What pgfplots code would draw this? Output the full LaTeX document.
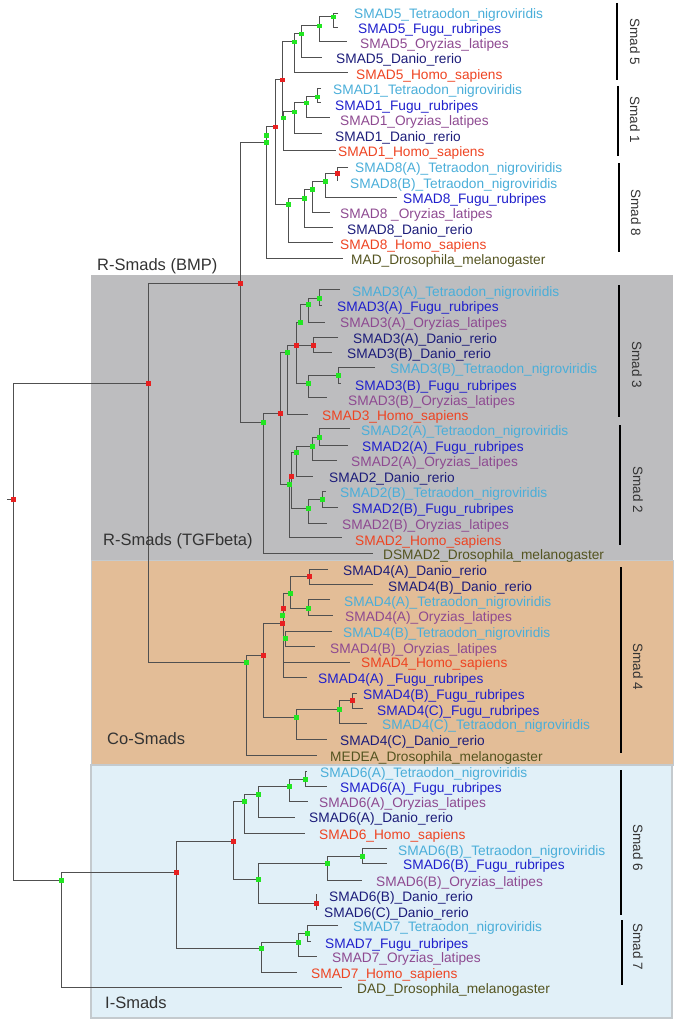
\documentclass[border=0pt]{standalone}
\usepackage{pgfplots}
\pgfplotsset{compat=1.18}
\usepackage{fontspec}
\setmainfont{Liberation Sans}
\definecolor{ctet}{HTML}{4AAED9}
\definecolor{cfugu}{HTML}{1F1FCC}
\definecolor{cory}{HTML}{8E4A91}
\definecolor{cdan}{HTML}{1C1C7A}
\definecolor{chomo}{HTML}{EE4422}
\definecolor{cdro}{HTML}{545420}
\definecolor{cline}{HTML}{505050}
\definecolor{cgray}{HTML}{BDBDBF}
\definecolor{corange}{HTML}{E3BD97}
\definecolor{cblue}{HTML}{E1F0F8}
\definecolor{cborder}{HTML}{C4CACE}
\definecolor{cgreen}{HTML}{22E622}
\definecolor{cred}{HTML}{E82020}
\definecolor{ctext}{HTML}{333333}
\newcommand{\lf}{\fontsize{13.7}{15}\selectfont}
\newcommand{\gf}{\fontsize{16.5}{18}\selectfont}
\newcommand{\smf}{\fontsize{13.5}{15}\selectfont}
\newcommand{\leaf}[4]{\node[anchor=base west,inner sep=0pt,yshift=-4.9pt,text=#4,font=\lf] at (axis cs:#1,#2) {#3};}
\begin{document}
\begin{tikzpicture}
\begin{axis}[width=685pt,height=1030pt,scale only axis,xmin=0,xmax=685,ymin=0,ymax=1030,y dir=reverse,hide axis,clip=false,unbounded coords=jump]
% background boxes
\addplot[fill=cgray,draw=none] coordinates {(91,275)(673,275)(673,560)(91,560)} -- cycle;
\addplot[fill=corange,draw=cborder,line width=0.8pt] coordinates {(91,560)(673,560)(673,765)(91,765)} -- cycle;
\addplot[fill=cblue,draw=cborder,line width=1.5pt] coordinates {(91,765)(672,765)(672,1018)(91,1018)} -- cycle;
% tree
\addplot[cline,line width=1pt,mark=none] table {
x y
338 14
333 14
333 28
338 28
nan nan
333 17
319 17
319 42
347 42
nan nan
319 26
301 26
301 58
322 58
nan nan
301 34
294 34
294 73
348 73
nan nan
321 89
317 89
317 103
321 103
nan nan
317 97
306 97
306 118
330 118
nan nan
306 103
294 103
294 134
322 134
nan nan
294 112
283 112
283 150
336 150
nan nan
294 42
282 42
282 118
283 118
nan nan
348 167
337 167
337 181
nan nan
337 173
325 173
325 197
397 197
nan nan
325 181
312 181
312 212
330 212
nan nan
312 189
304 189
304 227
333 227
nan nan
304 198
288 198
288 242
333 242
nan nan
282 80
275 80
275 204
288 204
nan nan
275 127
266 127
266 258
343 258
nan nan
266 142
240 142
240 422
263 422
nan nan
340 289
319 289
319 305
322 305
nan nan
319 298
308 298
308 322
325 322
nan nan
338 337
313 337
313 352
332 352
nan nan
308 304
300 304
300 322
nan nan
300 322
296 322
296 383
308 383
nan nan
296 345
313 345
nan nan
375 367
338 367
338 383
341 383
nan nan
338 375
308 375
308 397
327 397
nan nan
296 345
287 345
287 414
308 414
nan nan
287 352
280 352
280 484
289 484
nan nan
280 413
263 413
263 553
373 553
nan nan
350 428
319 428
319 445
348 445
nan nan
319 437
312 437
312 460
337 460
nan nan
312 446
296 446
296 476
313 476
nan nan
326 491
322 491
322 507
338 507
nan nan
322 499
308 499
308 523
327 523
nan nan
296 452
291 452
291 508
308 508
nan nan
291 476
289 476
289 537
342 537
nan nan
328 569
309 569
309 584
373 584
nan nan
330 599
308 599
308 615
333 615
nan nan
309 576
290 576
290 608
308 608
nan nan
332 631
285 631
285 646
315 646
nan nan
290 593
283 593
283 677
307 677
nan nan
283 638
285 638
nan nan
283 662
350 662
nan nan
283 623
263 623
263 717
296 717
nan nan
357 693
352 693
352 708
363 708
nan nan
352 700
339 700
339 723
367 723
nan nan
339 709
296 709
296 739
327 739
nan nan
263 655
246 655
246 755
317 755
nan nan
240 283
148 283
148 662
246 662
nan nan
307 771
305 771
305 786
327 786
nan nan
305 779
289 779
289 801
308 801
nan nan
289 786
258 786
258 817
295 817
nan nan
258 794
244 794
244 833
305 833
nan nan
387 848
362 848
362 863
387 863
nan nan
362 856
327 856
327 880
362 880
nan nan
316 894
316 910
nan nan
327 863
258 863
258 903
316 903
nan nan
244 801
233 801
233 879
258 879
nan nan
338 925
307 925
307 941
311 941
nan nan
307 933
298 933
298 956
317 956
nan nan
298 942
261 942
261 972
297 972
nan nan
233 841
176 841
176 948
261 948
nan nan
176 872
61 872
61 987
342 987
nan nan
148 383
13 383
13 880
61 880
nan nan
7 499
13 499
};
% node marks
\addplot[only marks,mark=square*,mark size=1.7pt,color=cgreen,mark options={draw=none,fill=cgreen}] table {
x y
333 17
319 26
301 34
294 42
317 97
306 103
294 112
283 118
266 135
266 142
325 181
312 189
304 198
288 204
319 298
308 304
300 322
287 352
338 375
308 383
263 422
319 437
312 446
296 452
289 484
322 499
308 508
290 593
308 608
282 615
285 638
246 662
339 709
296 717
305 779
289 786
258 794
244 801
362 856
327 863
258 879
307 933
298 942
261 948
61 880
};
\addplot[only marks,mark=square*,mark size=1.7pt,color=cred,mark options={draw=none,fill=cred}] table {
x y
13 499
282 80
275 127
337 173
240 283
148 383
313 345
296 345
280 413
291 476
309 576
283 608
282 623
263 655
352 700
233 841
176 872
316 903
};
% right bars
\addplot[black,line width=2.5pt,mark=none] coordinates {(617,3)(617,80)};
\addplot[black,line width=2.5pt,mark=none] coordinates {(618,86)(618,156)};
\addplot[black,line width=2.5pt,mark=none] coordinates {(619,163)(619,252)};
\addplot[black,line width=2.5pt,mark=none] coordinates {(619,285)(619,417)};
\addplot[black,line width=2.5pt,mark=none] coordinates {(620,425)(620,545)};
\addplot[black,line width=2.5pt,mark=none] coordinates {(621,567)(621,753)};
\addplot[black,line width=2.5pt,mark=none] coordinates {(621,770)(621,915)};
\addplot[black,line width=2.5pt,mark=none] coordinates {(622,920)(622,985)};
\node[rotate=-90,font=\smf,text=ctext] at (axis cs:635,42) {Smad 5};
\node[rotate=-90,font=\smf,text=ctext] at (axis cs:635,120) {Smad 1};
\node[rotate=-90,font=\smf,text=ctext] at (axis cs:636,213) {Smad 8};
\node[rotate=-90,font=\smf,text=ctext] at (axis cs:637,365) {Smad 3};
\node[rotate=-90,font=\smf,text=ctext] at (axis cs:638,490) {Smad 2};
\node[rotate=-90,font=\smf,text=ctext] at (axis cs:638,667) {Smad 4};
\node[rotate=-90,font=\smf,text=ctext] at (axis cs:638,848) {Smad 6};
\node[rotate=-90,font=\smf,text=ctext] at (axis cs:638,947) {Smad 7};
% group labels
\node[anchor=base west,inner sep=0pt,yshift=-5.9pt,font=\gf,text=ctext] at (axis cs:97,265) {R-Smads (BMP)};
\node[anchor=base west,inner sep=0pt,yshift=-5.9pt,font=\gf,text=ctext] at (axis cs:103,540) {R-Smads (TGFbeta)};
\node[anchor=base west,inner sep=0pt,yshift=-5.9pt,font=\gf,text=ctext] at (axis cs:107,739) {Co-Smads};
\node[anchor=base west,inner sep=0pt,yshift=-5.9pt,font=\gf,text=ctext] at (axis cs:105,1003) {I-Smads};
% leaves
\leaf{354}{14}{SMAD5\_Tetraodon\_nigroviridis}{ctet}
\leaf{358}{29}{SMAD5\_Fugu\_rubripes}{cfugu}
\leaf{360}{44}{SMAD5\_Oryzias\_latipes}{cory}
\leaf{336}{59}{SMAD5\_Danio\_rerio}{cdan}
\leaf{356}{75}{SMAD5\_Homo\_sapiens}{chomo}
\leaf{333}{90}{SMAD1\_Tetraodon\_nigroviridis}{ctet}
\leaf{335}{106}{SMAD1\_Fugu\_rubripes}{cfugu}
\leaf{340}{121}{SMAD1\_Oryzias\_latipes}{cory}
\leaf{335}{137}{SMAD1\_Danio\_rerio}{cdan}
\leaf{338}{152}{SMAD1\_Homo\_sapiens}{chomo}
\leaf{355}{168}{SMAD8(A)\_Tetraodon\_nigroviridis}{ctet}
\leaf{350}{184}{SMAD8(B)\_Tetraodon\_nigroviridis}{ctet}
\leaf{403}{199}{SMAD8\_Fugu\_rubripes}{cfugu}
\leaf{340}{214}{SMAD8 \_Oryzias\_latipes}{cory}
\leaf{347}{230}{SMAD8\_Danio\_rerio}{cdan}
\leaf{340}{245}{SMAD8\_Homo\_sapiens}{chomo}
\leaf{351}{260}{MAD\_Drosophila\_melanogaster}{cdro}
\leaf{352}{292}{SMAD3(A)\_Tetraodon\_nigroviridis}{ctet}
\leaf{337}{307}{SMAD3(A)\_Fugu\_rubripes}{cfugu}
\leaf{340}{323}{SMAD3(A)\_Oryzias\_latipes}{cory}
\leaf{353}{339}{SMAD3(A)\_Danio\_rerio}{cdan}
\leaf{347}{354}{SMAD3(B)\_Danio\_rerio}{cdan}
\leaf{390}{369}{SMAD3(B)\_Tetraodon\_nigroviridis}{ctet}
\leaf{355}{386}{SMAD3(B)\_Fugu\_rubripes}{cfugu}
\leaf{348}{401}{SMAD3(B)\_Oryzias\_latipes}{cory}
\leaf{322}{416}{SMAD3\_Homo\_sapiens}{chomo}
\leaf{361}{431}{SMAD2(A)\_Tetraodon\_nigroviridis}{ctet}
\leaf{362}{447}{SMAD2(A)\_Fugu\_rubripes}{cfugu}
\leaf{351}{462}{SMAD2(A)\_Oryzias\_latipes}{cory}
\leaf{329}{478}{SMAD2\_Danio\_rerio}{cdan}
\leaf{340}{493}{SMAD2(B)\_Tetraodon\_nigroviridis}{ctet}
\leaf{352}{509}{SMAD2(B)\_Fugu\_rubripes}{cfugu}
\leaf{342}{525}{SMAD2(B)\_Oryzias\_latipes}{cory}
\leaf{355}{541}{SMAD2\_Homo\_sapiens}{chomo}
\leaf{383}{555}{DSMAD2\_Drosophila\_melanogaster}{cdro}
\leaf{343}{571}{SMAD4(A)\_Danio\_rerio}{cdan}
\leaf{388}{587}{SMAD4(B)\_Danio\_rerio}{cdan}
\leaf{344}{602}{SMAD4(A)\_Tetraodon\_nigroviridis}{ctet}
\leaf{345}{617}{SMAD4(A)\_Oryzias\_latipes}{cory}
\leaf{343}{633}{SMAD4(B)\_Tetraodon\_nigroviridis}{ctet}
\leaf{330}{649}{SMAD4(B)\_Oryzias\_latipes}{cory}
\leaf{361}{663}{SMAD4\_Homo\_sapiens}{chomo}
\leaf{318}{679}{SMAD4(A) \_Fugu\_rubripes}{cfugu}
\leaf{363}{695}{SMAD4(B)\_Fugu\_rubripes}{cfugu}
\leaf{377}{711}{SMAD4(C)\_Fugu\_rubripes}{cfugu}
\leaf{382}{725}{SMAD4(C)\_Tetraodon\_nigroviridis}{ctet}
\leaf{340}{741}{SMAD4(C)\_Danio\_rerio}{cdan}
\leaf{330}{757}{MEDEA\_Drosophila\_melanogaster}{cdro}
\leaf{320}{773}{SMAD6(A)\_Tetraodon\_nigroviridis}{ctet}
\leaf{340}{788}{SMAD6(A)\_Fugu\_rubripes}{cfugu}
\leaf{319}{803}{SMAD6(A)\_Oryzias\_latipes}{cory}
\leaf{309}{818}{SMAD6(A)\_Danio\_rerio}{cdan}
\leaf{319}{835}{SMAD6\_Homo\_sapiens}{chomo}
\leaf{398}{851}{SMAD6(B)\_Tetraodon\_nigroviridis}{ctet}
\leaf{403}{865}{SMAD6(B)\_Fugu\_rubripes}{cfugu}
\leaf{376}{882}{SMAD6(B)\_Oryzias\_latipes}{cory}
\leaf{329}{897}{SMAD6(B)\_Danio\_rerio}{cdan}
\leaf{324}{913}{SMAD6(C)\_Danio\_rerio}{cdan}
\leaf{353}{927}{SMAD7\_Tetraodon\_nigroviridis}{ctet}
\leaf{325}{944}{SMAD7\_Fugu\_rubripes}{cfugu}
\leaf{332}{958}{SMAD7\_Oryzias\_latipes}{cory}
\leaf{311}{974}{SMAD7\_Homo\_sapiens}{chomo}
\leaf{357}{989}{DAD\_Drosophila\_melanogaster}{cdro}
\end{axis}
\pgfresetboundingbox
\path (current axis.south west) rectangle (current axis.north east);
\end{tikzpicture}
\end{document}
